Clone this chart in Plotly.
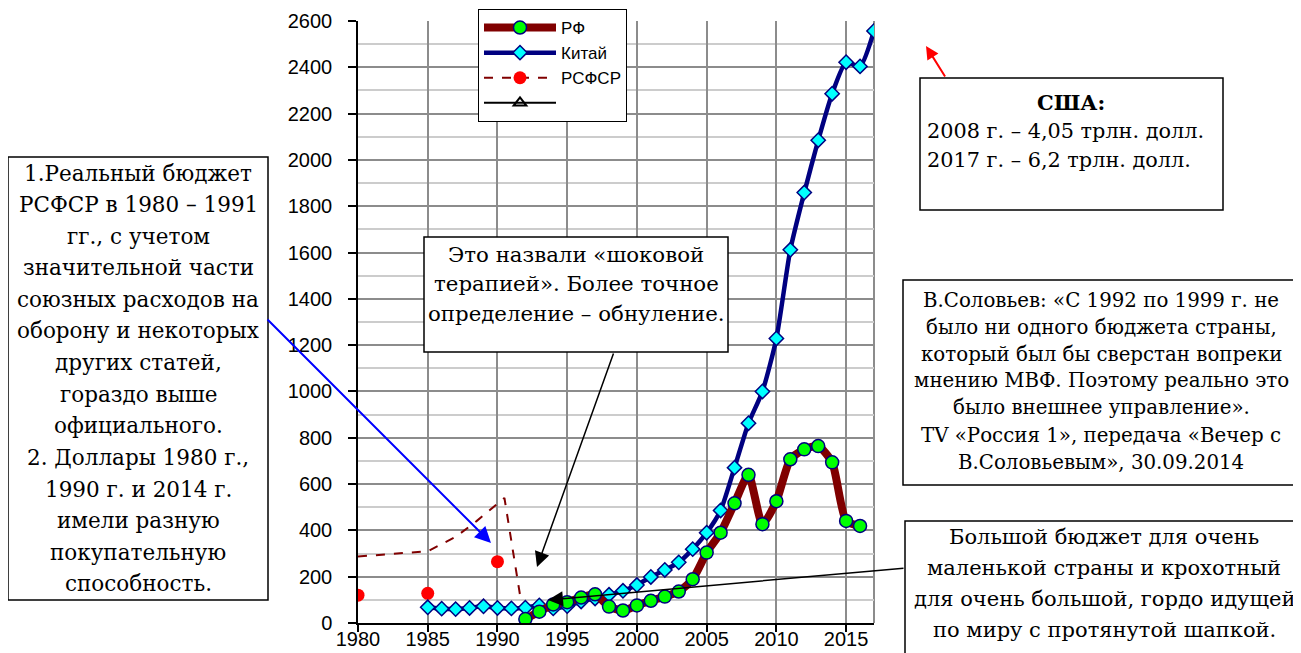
import plotly.graph_objects as go

# ---- data ----
rf_years = list(range(1992, 2017))
rf_values = [17, 49, 80, 90, 110, 124, 71, 54, 76, 96, 114, 136, 189, 304, 390,
             517, 640, 427, 526, 707, 750, 764, 694, 441, 419]

cn_years = list(range(1985, 2018))
cn_values = [68, 62, 60, 65, 72, 65, 63, 66, 76, 63,
             73, 93, 106, 122, 139, 164, 199, 229, 262, 319,
             390, 486, 671, 863, 1000, 1229, 1612, 1859, 2085, 2286,
             2422, 2404, 2557]

rsfsr_years = [1980, 1985, 1990]
rsfsr_values = [120, 128, 265]

rsfsr_line_years = [1980, 1985, 1987, 1988.5, 1990.5, 1991.7]
rsfsr_line_values = [287, 310, 372, 440, 540, 90]

y_ticks = list(range(0, 2601, 200))
x_ticks = list(range(1980, 2016, 5))

# ---- layout geometry (page pixels) ----
W, H = 1301, 653
OFF = 8  # page body margin
PL, PR, PT, PB = 358, 874, 21, 623


def px(x):
    return (x - PL) / (PR - PL)


def py(y):
    return (PB - y) / (PB - PT)


SERIF = "DejaVu Serif, Liberation Serif, serif"
SANS = "Liberation Sans, Arial, sans-serif"

fig = go.Figure()

fig.add_trace(go.Scatter(x=rsfsr_line_years, y=rsfsr_line_values, mode="lines",
                         line=dict(color="#800000", width=2, dash="dash"),
                         showlegend=False, hoverinfo="skip"))
fig.add_trace(go.Scatter(x=rsfsr_years, y=rsfsr_values, mode="markers",
                         marker=dict(color="#ff0000", size=13, line=dict(width=0)),
                         showlegend=False))
fig.add_trace(go.Scatter(x=cn_years, y=cn_values, mode="lines+markers", name="Китай",
                         line=dict(color="#000080", width=4.5, shape="spline", smoothing=0.6),
                         marker=dict(symbol="diamond", color="#00ffff", size=11,
                                     line=dict(color="#000080", width=1.5)),
                         legendrank=2))
fig.add_trace(go.Scatter(x=rf_years, y=rf_values, mode="lines+markers", name="РФ",
                         line=dict(color="#800000", width=8, shape="spline", smoothing=0.6),
                         marker=dict(symbol="circle", color="#00ff00", size=13,
                                     line=dict(color="#000080", width=1.5)),
                         legendrank=1))
fig.add_trace(go.Scatter(x=[None], y=[None], mode="lines+markers", name="РСФСР",
                         line=dict(color="#800000", width=2, dash="dash"),
                         marker=dict(color="#ff0000", size=13), legendrank=3))
fig.add_trace(go.Scatter(x=[None], y=[None], mode="lines+markers", name=" ",
                         line=dict(color="#000000", width=2),
                         marker=dict(symbol="triangle-up-open", color="#000000", size=11,
                                     line=dict(width=2)), legendrank=4))

fig.update_layout(
    width=W - OFF, height=H - OFF,
    margin=dict(l=PL - OFF, r=W - PR, t=PT - OFF, b=H - PB, pad=0, autoexpand=False),
    paper_bgcolor="white", plot_bgcolor="white",
    font=dict(family=SANS, size=20, color="black"),
    legend=dict(x=px(478), y=py(9), xanchor="left", yanchor="top",
                bgcolor="white", bordercolor="black", borderwidth=1,
                font=dict(family=SANS, size=17), itemwidth=72,
                traceorder="normal"),
    showlegend=True,
)

fig.update_xaxes(range=[1980, 2017], tickvals=x_ticks, ticks="outside", ticklen=7,
                 tickcolor="black", tickwidth=1.5, showline=True, linecolor="black",
                 linewidth=1.5, showgrid=True, gridcolor="#8c8c8c", gridwidth=2,
                 zeroline=False, tickfont=dict(size=20), ticklabelstandoff=-10,
                 automargin=False)
fig.update_yaxes(range=[0, 2600], tickvals=y_ticks, ticks="outside", ticklen=8,
                 tickcolor="black", tickwidth=1.5, showline=True, linecolor="black",
                 linewidth=1.5, showgrid=True, gridcolor="#8c8c8c", gridwidth=2,
                 minor=dict(dtick=100, showgrid=True, gridcolor="#cccccc", gridwidth=2),
                 zeroline=False, tickfont=dict(size=20), ticklabelstandoff=12,
                 automargin=False)

shapes = [dict(type="line", xref="paper", yref="paper", x0=1, x1=1, y0=0, y1=1,
               line=dict(color="#8c8c8c", width=2), layer="below")]


def box(x0, y0, x1, y1):
    shapes.append(dict(type="rect", xref="paper", yref="paper",
                       x0=px(x0), x1=px(x1), y0=py(y1), y1=py(y0),
                       line=dict(color="black", width=1.5), fillcolor="white",
                       layer="above"))


box(8, 157, 268, 600)
box(424, 237, 728, 352)
box(920, 78, 1223, 210)
box(903, 280, 1299, 485)
box(905, 521, 1320, 680)
fig.update_layout(shapes=shapes)

ann = []


def lines(x, y0, step, items, size, xanchor="center", bold=False):
    for i, t in enumerate(items):
        ann.append(dict(xref="paper", yref="paper", x=px(x), y=py(y0 + i * step),
                        text=("<b>%s</b>" % t) if bold else t,
                        showarrow=False, xanchor=xanchor, yanchor="middle",
                        font=dict(family=SERIF, size=size, color="black")))


def arrow(tx, ty, hx, hy, color, width, size):
    ann.append(dict(xref="paper", yref="paper", x=px(hx), y=py(hy), text="",
                    showarrow=True, axref="pixel", ayref="pixel",
                    ax=tx - hx, ay=ty - hy, arrowhead=2, arrowsize=size,
                    arrowwidth=width, arrowcolor=color, standoff=0, startstandoff=0))


lines(138, 173, 31.6,
      ["1.Реальный бюджет", "РСФСР в 1980 – 1991", "гг., с учетом", "значительной части",
       "союзных расходов на", "оборону и некоторых", "других статей,", "гораздо выше",
       "официального.", "2. Доллары 1980 г.,", "1990 г. и 2014 г.", "имели разную",
       "покупательную", "способность."], 21.5)
lines(576, 254, 29.5,
      ["Это назвали «шоковой", "терапией». Более точное", "определение – обнуление."], 21.3)
lines(1071, 102, 0, ["США:"], 21, bold=True)
lines(925, 131, 29, ["2008 г. – 4,05 трлн. долл.", "2017 г. – 6,2 трлн. долл."], 20.8,
      xanchor="left")
lines(1101, 300, 27,
      ["В.Соловьев: «С 1992 по 1999 г. не", "было ни одного бюджета страны,",
       "который был бы сверстан вопреки", "мнению МВФ. Поэтому реально это",
       "было внешнее управление».", "TV «Россия 1», передача «Вечер с",
       "В.Соловьевым», 30.09.2014"], 19.8)
lines(1104, 537, 31,
      ["Большой бюджет для очень", "маленькой страны и крохотный",
       "для очень большой, гордо идущей", "по миру с протянутой шапкой."], 21)

arrow(266, 318, 491, 543, "#0000ff", 2, 1.6)
arrow(614, 352, 537, 567, "black", 1.5, 2)
arrow(905, 568, 548, 600, "black", 1.5, 2)
arrow(946, 78, 926, 46, "#ff0000", 2, 1.3)

fig.update_layout(annotations=ann)

fig.write_html("out.html")
